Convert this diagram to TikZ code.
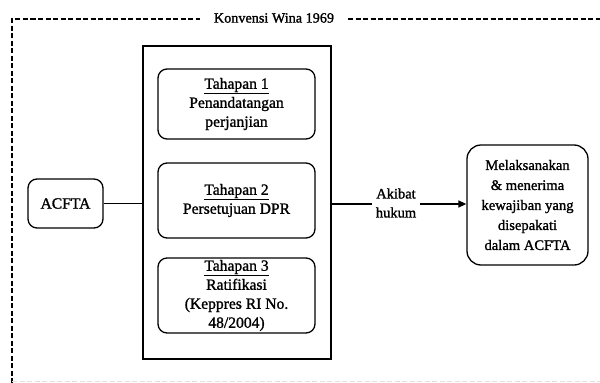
\documentclass[tikz,border=0pt]{standalone}
\usepackage{fontspec}
\setmainfont{Liberation Serif}
\newfontfamily\semib[FakeBold=1.3]{Liberation Serif}
\usetikzlibrary{arrows.meta}
\begin{document}
\begin{tikzpicture}[x=1pt,y=-1pt,
  rbox/.style={draw,line width=1.3pt,rounded corners=9pt,align=center,inner sep=0pt},
  txt/.style={font=\semib\fontsize{15.6}{19}\selectfont},
  dashline/.style={line width=1.3pt,dash pattern=on 5pt off 2.5pt},
  conn/.style={line width=1.3pt}]
\useasboundingbox (0,0) rectangle (600,383);
% frame
\node[font=\semib\fontsize{14.2}{18}\selectfont,anchor=center] (title) at (274,18) {Konvensi Wina 1969};
\coordinate (tl) at (12,19);
\coordinate (bl) at (12,383);
\coordinate (tr) at (600,19);
\coordinate (tla) at (200,19);
\coordinate (tra) at (348,19);
\draw[dashline] (bl) -- (tl) -- (tla);
\draw[dashline] (tra) -- (tr);
\draw[black!12,line width=0.8pt,dash pattern=on 5pt off 2.5pt] (12,381) -- (600,381);
% boxes
\node[rbox,txt,minimum width=75pt,minimum height=49pt] (acfta) at (65.5,203.5) {ACFTA};
\node[draw,line width=1.3pt,minimum width=188pt,minimum height=313pt,inner sep=0pt] (big) at (237,202.5) {};
\node[rbox,txt,minimum width=157pt,minimum height=70pt] (t1) at (236.5,104) {\underline{Tahapan 1}\\Penandatangan\\perjanjian};
\node[rbox,txt,minimum width=157pt,minimum height=75pt] (t2) at (236.5,200.5) {\underline{Tahapan 2}\\Persetujuan DPR};
\node[rbox,txt,minimum width=157pt,minimum height=75pt] (t3) at (236.5,295.5) {\underline{Tahapan 3}\\Ratifikasi\\(Keppres RI No.\\48/2004)};
\node[font=\semib\fontsize{14.5}{19}\selectfont,align=center] (akibat) at (396,203) {Akibat\\hukum};
\node[rbox,font=\semib\fontsize{14.6}{20}\selectfont,rounded corners=14pt,minimum width=121pt,minimum height=120pt] (res) at (527.5,205) {Melaksanakan\\\&{} menerima\\kewajiban yang\\disepakati\\dalam ACFTA};
% connectors
\draw[conn] (acfta.east) -- (acfta.east -| big.west);
\draw[conn] (big.east |- 0,204) -- (akibat.west |- 0,204);
\draw[conn,-{Triangle[length=8pt,width=7pt]}] (akibat.east |- 0,204) -- (res.west |- 0,204);
\end{tikzpicture}
\end{document}
